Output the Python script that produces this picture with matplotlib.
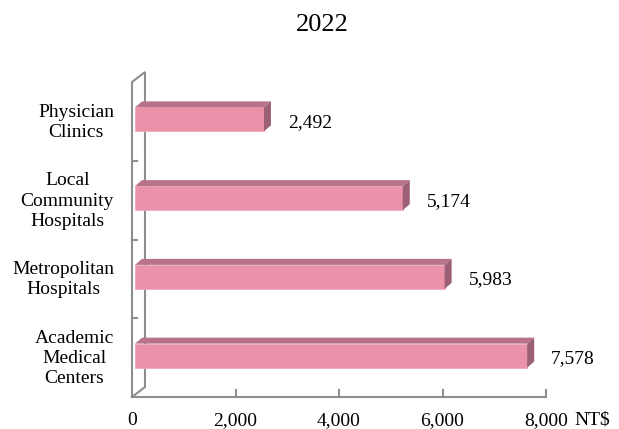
import matplotlib
matplotlib.use('Agg')
import matplotlib.pyplot as plt
from matplotlib.patches import Polygon

plt.rcParams['font.family'] = ['Liberation Serif', 'DejaVu Serif']

# data
categories = ['Academic\nMedical\nCenters', 'Metropolitan\nHospitals',
              'Local\nCommunity\nHospitals', 'Physician\nClinics']
values = [7578, 5983, 5174, 2492]
value_labels = ['7,578', '5,983', '5,174', '2,492']
xticks = [0, 2000, 4000, 6000, 8000]
xtick_labels = ['0', '2,000', '4,000', '6,000', '8,000']
title = '2022'
unit = 'NT$'

W, H = 619, 429
fig = plt.figure(figsize=(W / 100, H / 100), dpi=100)
ax = fig.add_axes([132 / W, 32 / H, 414 / W, 315 / H])
ax.set_xlim(0, 8000)
ax.set_ylim(-0.5, len(categories) - 0.5)
ax.axis('off')

# pixel -> data unit helpers
px_x = 8000 / 414
px_y = len(categories) / 315

front_c = '#e992aa'
top_c = '#b8738a'
side_c = '#9c6076'
wall_c = '#8e8e8e'

# wall / floor
wx, wy = 13 * px_x, 10 * px_y
top = len(categories) - 0.5
ax.plot([0, 0, wx, wx, 0], [-0.5, top, top + wy, -0.5 + wy, -0.5],
        color=wall_c, lw=1.5, clip_on=False, solid_joinstyle='miter')
ax.plot([0, 8000], [-0.5, -0.5], color=wall_c, lw=1.5, clip_on=False)
for b in [0.5, 1.5, 2.5]:
    ax.plot([0, 5 * px_x], [b, b], color=wall_c, lw=1.5, clip_on=False)
for t in xticks[1:]:
    ax.plot([t, t], [-0.5, -0.5 + 7 * px_y], color=wall_c, lw=1.5, clip_on=False)

# bars with 3d faces
sx, sy = 3 * px_x, 2 * px_y
dx, dy = 7 * px_x, 6 * px_y
h = 24 * px_y
ys = list(range(len(categories)))
ax.barh([y + sy for y in ys], values, left=sx, height=h, color=front_c,
        edgecolor='#f0aabd', linewidth=0.6, zorder=3)
for y, v in zip(ys, values):
    yt = y + sy + h / 2
    yb = y + sy - h / 2
    ax.add_patch(Polygon([(sx, yt), (sx + v, yt), (sx + v + dx, yt + dy), (sx + dx, yt + dy)],
                         closed=True, facecolor=top_c, edgecolor='none', zorder=3))
    ax.add_patch(Polygon([(sx + v, yb), (sx + v, yt), (sx + v + dx, yt + dy), (sx + v + dx, yb + dy)],
                         closed=True, facecolor=side_c, edgecolor='none', zorder=3))

for y, v, lab in zip(ys, values, value_labels):
    ax.annotate(lab, xy=(v, y), xytext=(27, -1), textcoords='offset pixels',
                ha='left', va='center', fontsize=14, annotation_clip=False)

for y, c in zip(ys, categories):
    ax.annotate(c, xy=(0, y), xytext=(-18, -1), textcoords='offset pixels',
                ha='right', va='center', multialignment='center', fontsize=14,
                linespacing=1.25, annotation_clip=False)

for t, lab in zip(xticks, xtick_labels):
    ax.annotate(lab, xy=(t, -0.5), xytext=(0, -28), textcoords='offset pixels',
                ha='center', va='baseline', fontsize=14, annotation_clip=False)
ax.annotate(unit, xy=(8000, -0.5), xytext=(28, -28), textcoords='offset pixels',
            ha='left', va='baseline', fontsize=14, annotation_clip=False)

fig.text(322 / W, 1 - 25 / H, title, ha='center', va='center', fontsize=19)

fig.savefig('out.png', dpi=100)
